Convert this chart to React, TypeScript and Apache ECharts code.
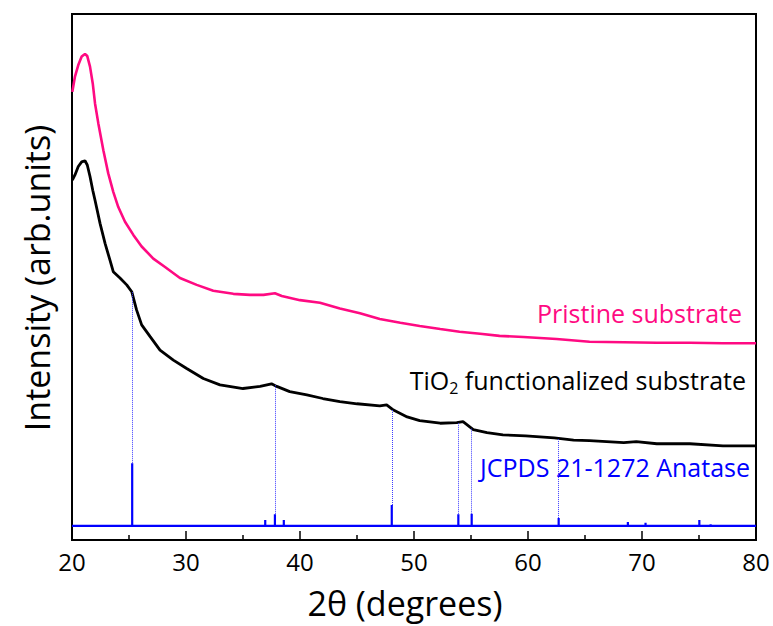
import React, { useEffect, useRef } from "react";
import * as echarts from "echarts";

// Pristine substrate (2θ, intensity a.u.)
const pristineX = [20.03, 20.26, 20.55, 20.85, 21.14, 21.34, 21.58, 21.82, 22.02, 22.31, 22.75, 23.18, 23.62, 24.06, 24.65, 25.38, 26.11, 27.13, 28.16, 29.47, 30.94, 32.39, 34.15, 35.61, 36.8, 37.8, 38.4, 40.0, 41.75, 43.5, 45.26, 47.0, 48.8, 50.5, 52.3, 54.0, 55.8, 57.5, 59.6, 62.5, 65.4, 68.4, 71.3, 74.2, 77.1, 80.0];
const pristineY = [85.2, 88.1, 90.3, 91.9, 92.4, 92.0, 90.0, 86.8, 83.0, 79.2, 74.1, 69.7, 66.2, 63.3, 60.5, 58.0, 55.8, 53.5, 51.9, 49.8, 48.5, 47.4, 46.8, 46.6, 46.6, 46.9, 46.4, 45.6, 45.1, 44.0, 43.1, 42.0, 41.3, 40.7, 40.1, 39.6, 39.2, 38.8, 38.6, 38.2, 37.7, 37.6, 37.5, 37.5, 37.4, 37.4];

// TiO2 functionalized substrate
const tioX = [20.03, 20.26, 20.55, 20.85, 21.14, 21.34, 21.58, 21.82, 22.02, 22.46, 22.9, 23.33, 23.62, 24.21, 24.8, 25.24, 25.67, 26.11, 26.84, 27.72, 28.89, 30.06, 31.52, 32.98, 35.0, 36.5, 37.5, 37.96, 39.1, 40.6, 42.0, 43.5, 45.0, 47.0, 47.6, 48.2, 49.4, 50.5, 52.3, 53.75, 54.3, 55.2, 56.4, 57.8, 59.8, 62.3, 64.0, 65.4, 68.4, 69.5, 71.3, 74.2, 77.1, 80.0];
const tioY = [68.4, 69.4, 71.0, 71.9, 72.1, 71.3, 69.1, 66.5, 64.6, 60.2, 56.4, 53.2, 51.0, 49.8, 48.5, 47.2, 43.7, 40.9, 38.7, 36.1, 34.2, 32.6, 30.7, 29.5, 28.8, 29.2, 29.7, 29.2, 28.2, 27.6, 26.9, 26.3, 25.9, 25.5, 25.7, 24.7, 23.4, 22.7, 22.2, 22.3, 22.5, 21.0, 20.4, 20.0, 19.8, 19.4, 19.0, 18.9, 18.5, 18.7, 18.3, 18.3, 17.9, 17.9];

// JCPDS 21-1272 Anatase reference lines
const refBase = 2.7;
const refPos = [25.28, 36.95, 37.8, 38.58, 48.05, 53.89, 55.06, 62.12, 62.69, 68.76, 70.31, 75.03, 76.02];
const refTop = [14.6, 3.8, 4.9, 3.8, 6.65, 4.9, 5.0, 2.9, 4.2, 3.4, 3.3, 3.8, 3.0];

// dotted guide lines: position, from (stick top) to curve value
const guidePos = [25.28, 37.8, 48.05, 53.89, 55.06, 62.69];
const guideFrom = [14.6, 4.9, 6.65, 4.9, 5.0, 4.2];
const guideTo = [47.2, 29.6, 24.8, 22.4, 21.2, 19.2];

const xTicks = [20, 30, 40, 50, 60, 70, 80];

const FONT = "Open Sans";

export default function App() {
  const ref = useRef<HTMLDivElement>(null);
  useEffect(() => {
    if (!ref.current) return;
    const chart = echarts.init(ref.current, undefined, { renderer: "svg" });
    const comb: number[][] = [[20, refBase]];
    refPos.forEach((p, i) => {
      comb.push([p, refBase], [p, refTop[i]], [p, refBase]);
    });
    comb.push([80, refBase]);

    chart.setOption({
      animation: false,
      grid: {
        left: 72,
        right: 17,
        top: 14,
        bottom: 86,
        show: true,
        borderColor: "#000",
        borderWidth: 2,
        backgroundColor: "transparent",
      },
      xAxis: {
        type: "value",
        min: xTicks[0],
        max: xTicks[xTicks.length - 1],
        interval: 10,
        axisLine: { show: true, lineStyle: { color: "#000", width: 2 } },
        axisTick: { show: true, inside: true, length: 9, lineStyle: { color: "#000", width: 1.5 } },
        minorTick: { show: true, splitNumber: 2, length: 5, lineStyle: { color: "#000", width: 1.5 } },
        splitLine: { show: false },
        axisLabel: { color: "#000", fontSize: 24, fontFamily: FONT, margin: 9 },
      },
      yAxis: {
        type: "value",
        min: 0,
        max: 100,
        axisLine: { show: true, lineStyle: { color: "#000", width: 2 } },
        axisTick: { show: false },
        axisLabel: { show: false },
        splitLine: { show: false },
      },
      series: [
        {
          type: "line",
          data: pristineX.map((x, i) => [x, pristineY[i]]),
          showSymbol: false,
          smooth: false,
          lineStyle: { color: "#ff0a82", width: 2.6 },
          z: 3,
        },
        {
          type: "line",
          data: tioX.map((x, i) => [x, tioY[i]]),
          showSymbol: false,
          smooth: false,
          lineStyle: { color: "#000", width: 2.8 },
          z: 3,
        },
        {
          type: "line",
          data: comb,
          showSymbol: false,
          lineStyle: { color: "#0000ff", width: 2.2 },
          z: 2,
          markLine: {
            silent: true,
            symbol: "none",
            label: { show: false },
            lineStyle: { color: "#3a3aff", type: "dotted", width: 1 },
            data: guidePos.map((p, i) => [
              { coord: [p, guideFrom[i]] },
              { coord: [p, guideTo[i]] },
            ]),
          },
        },
      ],
      graphic: [
        {
          type: "text",
          x: 742,
          y: 313,
          style: { text: "Pristine substrate", fill: "#ff0a82", font: `25px "${FONT}"`, align: "right", verticalAlign: "middle" },
        },
        {
          type: "text",
          x: 746,
          y: 380,
          style: {
            text: "{a|TiO}{b|2}{a| functionalized substrate}",
            align: "right",
            verticalAlign: "middle",
            rich: {
              a: { fill: "#000", fontSize: 25, fontFamily: FONT, lineHeight: 34 },
              b: { fill: "#000", fontSize: 16, fontFamily: FONT, lineHeight: 34, padding: [16, 0, 0, 0] },
            },
          },
        },
        {
          type: "text",
          x: 750,
          y: 467,
          style: { text: "JCPDS 21-1272 Anatase", fill: "#0000ff", font: `25px "${FONT}"`, align: "right", verticalAlign: "middle" },
        },
        {
          type: "text",
          x: 405,
          y: 603,
          style: { text: "2θ (degrees)", fill: "#000", font: `34px "${FONT}"`, align: "center", verticalAlign: "middle" },
        },
        {
          type: "text",
          x: 37,
          y: 278,
          rotation: Math.PI / 2,
          style: { text: "Intensity (arb.units)", fill: "#000", font: `34px "${FONT}"`, align: "center", verticalAlign: "middle" },
        },
      ],
    });
    return () => chart.dispose();
  }, []);
  return <div ref={ref} style={{ position: "fixed", left: 0, top: 0, width: 773, height: 626, background: "#fff" }} />;
}
